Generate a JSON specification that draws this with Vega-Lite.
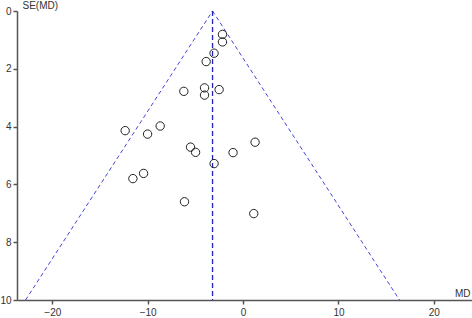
{
  "$schema": "https://vega.github.io/schema/vega-lite/v6.json",
  "width": 455,
  "height": 289,
  "autosize": "none",
  "padding": {"left": 17, "top": 11, "right": 0, "bottom": 18},
  "background": "white",
  "config": {
    "view": {"stroke": null},
    "font": "Liberation Sans",
    "axis": {
      "grid": false,
      "domainColor": "#555555",
      "domainWidth": 1.5,
      "tickColor": "#555555",
      "tickWidth": 1.5,
      "tickSize": 4,
      "labelFont": "Liberation Sans",
      "labelFontSize": 10,
      "labelColor": "#333333",
      "titleFont": "Liberation Sans",
      "titleFontSize": 10,
      "titleFontWeight": "normal",
      "titleColor": "#333333"
    }
  },
  "datasets": {
    "studies": [
      {"md": -2.16, "se": 0.81},
      {"md": -2.16, "se": 1.07},
      {"md": -3.04, "se": 1.46},
      {"md": -3.87, "se": 1.75},
      {"md": -6.21, "se": 2.78},
      {"md": -4.04, "se": 2.66},
      {"md": -4.04, "se": 2.91},
      {"md": -2.51, "se": 2.72},
      {"md": -8.69, "se": 3.98},
      {"md": -12.36, "se": 4.14},
      {"md": -10.01, "se": 4.26},
      {"md": -5.51, "se": 4.71},
      {"md": -4.98, "se": 4.89},
      {"md": -1.05, "se": 4.9},
      {"md": 1.26, "se": 4.54},
      {"md": -3.04, "se": 5.28},
      {"md": -10.43, "se": 5.62},
      {"md": -11.55, "se": 5.8},
      {"md": -6.14, "se": 6.6},
      {"md": 1.12, "se": 7.01}
    ],
    "funnel": [
      {"line": "left", "md": -3.2, "se": 0},
      {"line": "left", "md": -22.8, "se": 10},
      {"line": "right", "md": -3.2, "se": 0},
      {"line": "right", "md": 16.4, "se": 10}
    ],
    "center": [
      {"line": "center", "md": -3.2, "se": 0},
      {"line": "center", "md": -3.2, "se": 10}
    ]
  },
  "encoding": {
    "x": {
      "field": "md",
      "type": "quantitative",
      "scale": {"domain": [-23.7, 24], "nice": false, "zero": false},
      "axis": {
        "values": [-20, -10, 0, 10, 20],
        "title": "MD",
        "titleAnchor": "end",
        "titleAlign": "right",
        "titleX": 453,
        "titleY": -7,
        "titleBaseline": "middle",
        "labelPadding": 3
      }
    },
    "y": {
      "field": "se",
      "type": "quantitative",
      "scale": {"domain": [0, 10], "reverse": true, "nice": false, "zero": false},
      "axis": {
        "values": [0, 2, 4, 6, 8, 10],
        "title": "SE(MD)",
        "titleAngle": 0,
        "titleAlign": "left",
        "titleX": 5,
        "titleY": -6,
        "titleBaseline": "middle",
        "labelPadding": 2
      }
    }
  },
  "layer": [
    {
      "data": {"name": "funnel"},
      "mark": {"type": "line", "color": "#4444dd", "strokeWidth": 1, "strokeDash": [4, 3], "clip": true},
      "encoding": {"detail": {"field": "line", "type": "nominal"}}
    },
    {
      "data": {"name": "center"},
      "mark": {"type": "line", "color": "#2222bb", "strokeWidth": 1.3, "strokeDash": [5, 3]},
      "encoding": {"detail": {"field": "line", "type": "nominal"}}
    },
    {
      "data": {"name": "studies"},
      "mark": {"type": "point", "shape": "circle", "filled": false, "color": "#222222", "strokeWidth": 1, "size": 70, "opacity": 1}
    }
  ]
}
